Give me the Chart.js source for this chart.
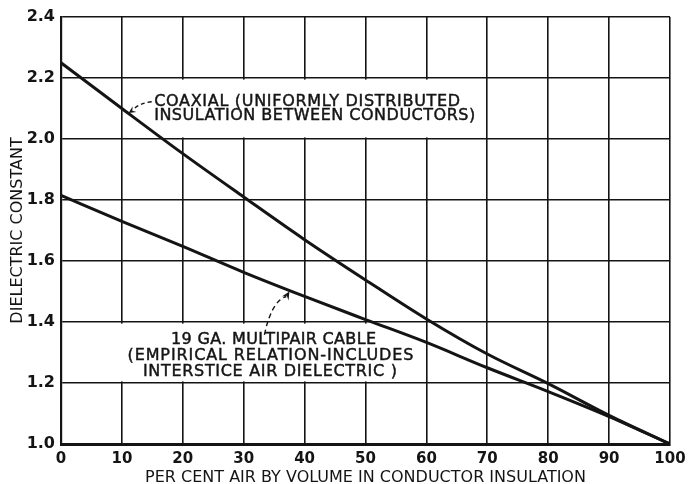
<!DOCTYPE html>
<html><head><meta charset="utf-8">
<script src="https://cdn.jsdelivr.net/npm/chart.js@4.4.1/dist/chart.umd.min.js"></script>
<style>html,body{margin:0;padding:0;background:#fff}</style>
</head><body>
<canvas id="c" width="688" height="484"></canvas>
<script>
// ---- data ----
const airPercent = [0, 10, 20, 30, 40, 50, 60, 70, 80, 90, 100];
const coaxialK   = [2.25, 2.10, 1.952, 1.81, 1.67, 1.538, 1.41, 1.295, 1.198, 1.094, 1.0];
const multipairK = [1.815, 1.73, 1.648, 1.563, 1.484, 1.408, 1.333, 1.250, 1.172, 1.090, 1.0];
const coaxialNote   = ['COAXIAL (UNIFORMLY DISTRIBUTED', 'INSULATION BETWEEN CONDUCTORS)'];
const multipairNote = ['19 GA. MULTIPAIR CABLE', '(EMPIRICAL RELATION-INCLUDES', 'INTERSTICE AIR DIELECTRIC )'];
const xTitle = 'PER CENT AIR BY VOLUME IN CONDUCTOR INSULATION';
const yTitle = 'DIELECTRIC CONSTANT';

const ink = '#141414';
const FONT = '"DejaVu Sans", sans-serif';

function fitText(ctx, str, x, y, target, align) {
  ctx.letterSpacing = '0px';
  const w = ctx.measureText(str).width;
  let sp = (target - w) / Math.max(1, str.length - 1);
  sp = Math.max(-1.5, Math.min(3, sp));
  ctx.letterSpacing = sp + 'px';
  const total = w + sp * (str.length - 1);
  let sx = x;
  if (align === 'center') sx = x - total / 2;
  ctx.textAlign = 'left';
  ctx.lineWidth = 0.45;
  ctx.strokeText(str, sx, y);
  ctx.fillText(str, sx, y);
  ctx.letterSpacing = '0px';
}

function arrowHead(ctx, tx, ty, fx, fy, len) {
  const a = Math.atan2(ty - fy, tx - fx);
  ctx.beginPath();
  ctx.moveTo(tx, ty);
  ctx.lineTo(tx - len * Math.cos(a - 0.45), ty - len * Math.sin(a - 0.45));
  ctx.lineTo(tx - len * 0.55 * Math.cos(a), ty - len * 0.55 * Math.sin(a));
  ctx.lineTo(tx - len * Math.cos(a + 0.45), ty - len * Math.sin(a + 0.45));
  ctx.closePath();
  ctx.fill();
}

const notesPlugin = {
  id: 'notes',
  beforeDraw(chart) {
    const ctx = chart.ctx;
    ctx.save();
    ctx.fillStyle = '#fff';
    ctx.fillRect(0, 0, chart.width, chart.height);
    ctx.restore();
  },
  beforeDatasetsDraw(chart) {
    const { ctx, scales: { x, y } } = chart;
    ctx.save();
    ctx.fillStyle = '#fff';
    const box = (x0, x1, y0, y1) => {
      const px0 = x.getPixelForValue(x0), px1 = x.getPixelForValue(x1);
      const py0 = y.getPixelForValue(y0), py1 = y.getPixelForValue(y1);
      ctx.fillRect(px0, py0 + 1.6, px1 - px0, py1 - py0 - 3.2);
    };
    box(11.2, 69.3, 2.2, 2.0);
    box(0.6, 59.3, 1.4, 1.2);
    ctx.restore();
  },
  afterDatasetsDraw(chart) {
    const { ctx, scales: { x, y } } = chart;
    const X = v => x.getPixelForValue(v), Y = v => y.getPixelForValue(v);
    ctx.save();
    ctx.fillStyle = ink;
    ctx.strokeStyle = ink;
    ctx.font = '16px ' + FONT;
    ctx.textBaseline = 'middle';
    // coaxial note
    fitText(ctx, coaxialNote[0], X(15.3), Y(2.122), 306, 'left');
    fitText(ctx, coaxialNote[1], X(15.3), Y(2.076), 321, 'left');
    // multipair note
    fitText(ctx, multipairNote[0], X(34.9), Y(1.340), 205, 'center');
    fitText(ctx, multipairNote[1], X(34.4), Y(1.290), 286, 'center');
    fitText(ctx, multipairNote[2], X(34.3), Y(1.237), 254, 'center');

    // coaxial leader (dashed, with arrow)
    ctx.lineWidth = 1.4;
    ctx.setLineDash([4, 3]);
    const c0 = [X(14.9), Y(2.122)], ct = [X(11.1), Y(2.085)];
    ctx.beginPath();
    ctx.moveTo(c0[0], c0[1]);
    ctx.quadraticCurveTo(X(13.0), Y(2.118), ct[0] + 5, ct[1] - 4);
    ctx.stroke();
    ctx.setLineDash([]);
    arrowHead(ctx, ct[0], ct[1], X(13.2), Y(2.113), 8);

    // multipair leader
    ctx.setLineDash([5, 3.5]);
    const m0 = [X(33.4), Y(1.358)], mt = [X(37.5), Y(1.50)];
    ctx.beginPath();
    ctx.moveTo(m0[0], m0[1]);
    ctx.quadraticCurveTo(X(34.6), Y(1.47), mt[0] - 3, mt[1] + 5);
    ctx.stroke();
    ctx.setLineDash([]);
    arrowHead(ctx, mt[0], mt[1], X(36.6), Y(1.47), 9);
    ctx.restore();
  }
};

new Chart(document.getElementById('c'), {
  type: 'line',
  data: {
    labels: airPercent,
    datasets: [
      { label: 'Coaxial', data: airPercent.map((v, i) => ({ x: v, y: coaxialK[i] })),
        borderColor: ink, borderWidth: 3, pointRadius: 0, cubicInterpolationMode: 'monotone', fill: false },
      { label: '19 Ga. multipair cable', data: airPercent.map((v, i) => ({ x: v, y: multipairK[i] })),
        borderColor: ink, borderWidth: 3, pointRadius: 0, cubicInterpolationMode: 'monotone', fill: false }
    ]
  },
  options: {
    responsive: false,
    animation: false,
    devicePixelRatio: 1,
    layout: { padding: { left: 0, right: 18, top: 17, bottom: 0 } },
    plugins: { legend: { display: false }, tooltip: { enabled: false } },
    scales: {
      x: {
        type: 'linear', min: 0, max: 100,
        afterFit(s) { s.height = 40; s.paddingRight = 0; s.paddingLeft = 0; },
        ticks: { stepSize: 10, color: ink, padding: 6, maxRotation: 0,
          font: { family: FONT, size: 15, weight: 'bold' } },
        grid: { color: ink, lineWidth: 1.6, drawTicks: false },
        border: { color: ink, width: 3 },
        title: { display: true, text: xTitle, color: ink, padding: { top: 0, bottom: 0 },
          font: { family: FONT, size: 16, lineHeight: 0.8 } }
      },
      y: {
        min: 1.0, max: 2.4,
        afterFit(s) { s.width = 61; s.paddingTop = 0; s.paddingBottom = 0; },
        ticks: { stepSize: 0.2, color: ink, padding: 6,
          callback: v => Number(v).toFixed(1),
          font: { family: FONT, size: 16, weight: 'bold' } },
        grid: { color: ink, lineWidth: 1.6, drawTicks: false },
        border: { color: ink, width: 2.2 },
        title: { display: true, text: yTitle, color: ink, padding: { top: 8, bottom: 0 },
          font: { family: FONT, size: 16 } }
      }
    }
  },
  plugins: [notesPlugin]
});
</script>
</body></html>
